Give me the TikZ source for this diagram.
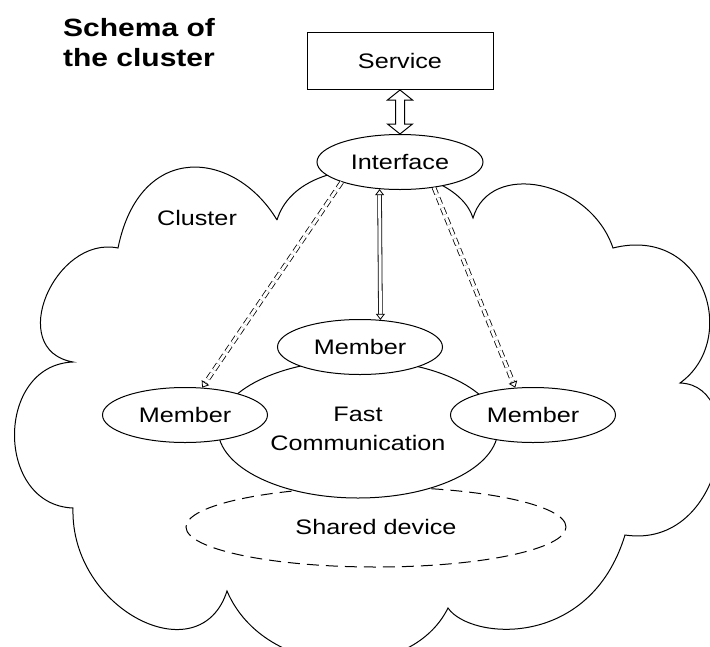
\documentclass[tikz,border=0pt]{standalone}
\usepackage{fontspec}
\setmainfont[FakeStretch=1.2]{Liberation Sans}
\usetikzlibrary{calc}
\usetikzlibrary{shapes.geometric}
\usetikzlibrary{arrows.meta}

\begin{document}
\begin{tikzpicture}[x=1pt,y=-1pt,line width=1pt,
    every node/.style={font=\fontsize{21}{29}\selectfont},
    blob/.style={ellipse,draw,fill=white,inner sep=0pt},
    member/.style={blob,minimum width=165pt,minimum height=55pt},
    link/.style={double,double distance=3pt,line width=0.8pt},
    linkend/.style={-{Triangle[open,length=6pt,width=9pt]}},
    linkboth/.style={{Triangle[open,length=6pt,width=9pt]}-{Triangle[open,length=6pt,width=9pt]}}]
    \useasboundingbox (0,0) rectangle (710,646);

    % cloud
    \begin{scope}
        \clip (0,0) rectangle (710,646);
        \draw (277,220) .. controls (235,150) and (140,140) .. (118,248)
            .. controls (55,235) and (5,350) .. (73,362)
            .. controls (-5,365) and (-5,505) .. (73,508)
            .. controls (70,610) and (200,675) .. (227,591)
            .. controls (265,680) and (410,685) .. (448,608)
            .. controls (470,640) and (590,650) .. (625,535)
            .. controls (725,550) and (750,385) .. (680,383)
            .. controls (740,340) and (705,225) .. (613,248)
            .. controls (590,180) and (490,160) .. (473,218)
            .. controls (455,160) and (300,145) .. (277,220);
    \end{scope}

    \node[font=\bfseries\fontsize{25}{30}\selectfont,align=left] (title) at (139,43) {Schema of\\the cluster};
    \node[draw,minimum width=186pt,minimum height=57pt] (service) at (400,61) {Service};
    \node[blob,minimum width=166pt,minimum height=55pt] (iface) at (400,162) {Interface};
    \node (cluster) at (197,218) {Cluster};

    \node[blob,dash pattern=on 12pt off 7pt,minimum width=380pt,minimum height=80pt] (shared) at (376,527) {Shared device};
    \node[blob,align=center,minimum width=280pt,minimum height=138pt] (fast) at (358,429) {Fast\\Communication};
    \foreach \n/\x/\y in {memleft/185/415,memtop/360/347,memright/533/415}
        \node[member] (\n) at (\x,\y) {Member};

    % links
    \draw[fill=white] (service.south) -- ++(12.5,10) -- ++(-8,0) -- ($(iface.north)+(4.5,-10)$) -- ++(8,0)
        -- (iface.north) -- ++(-12.5,-10) -- ++(8,0) -- ($(service.south)+(-4.5,10)$) -- ++(-8,0) -- cycle;
    \draw[link,linkboth] (iface.233) -- (memtop.53);
    \draw[link,linkend,dash pattern=on 7pt off 4pt] (iface.199) -- (memleft.58);
    \draw[link,linkend,dash pattern=on 7pt off 4pt] (iface.323) -- (memright.123);
\end{tikzpicture}
\end{document}
